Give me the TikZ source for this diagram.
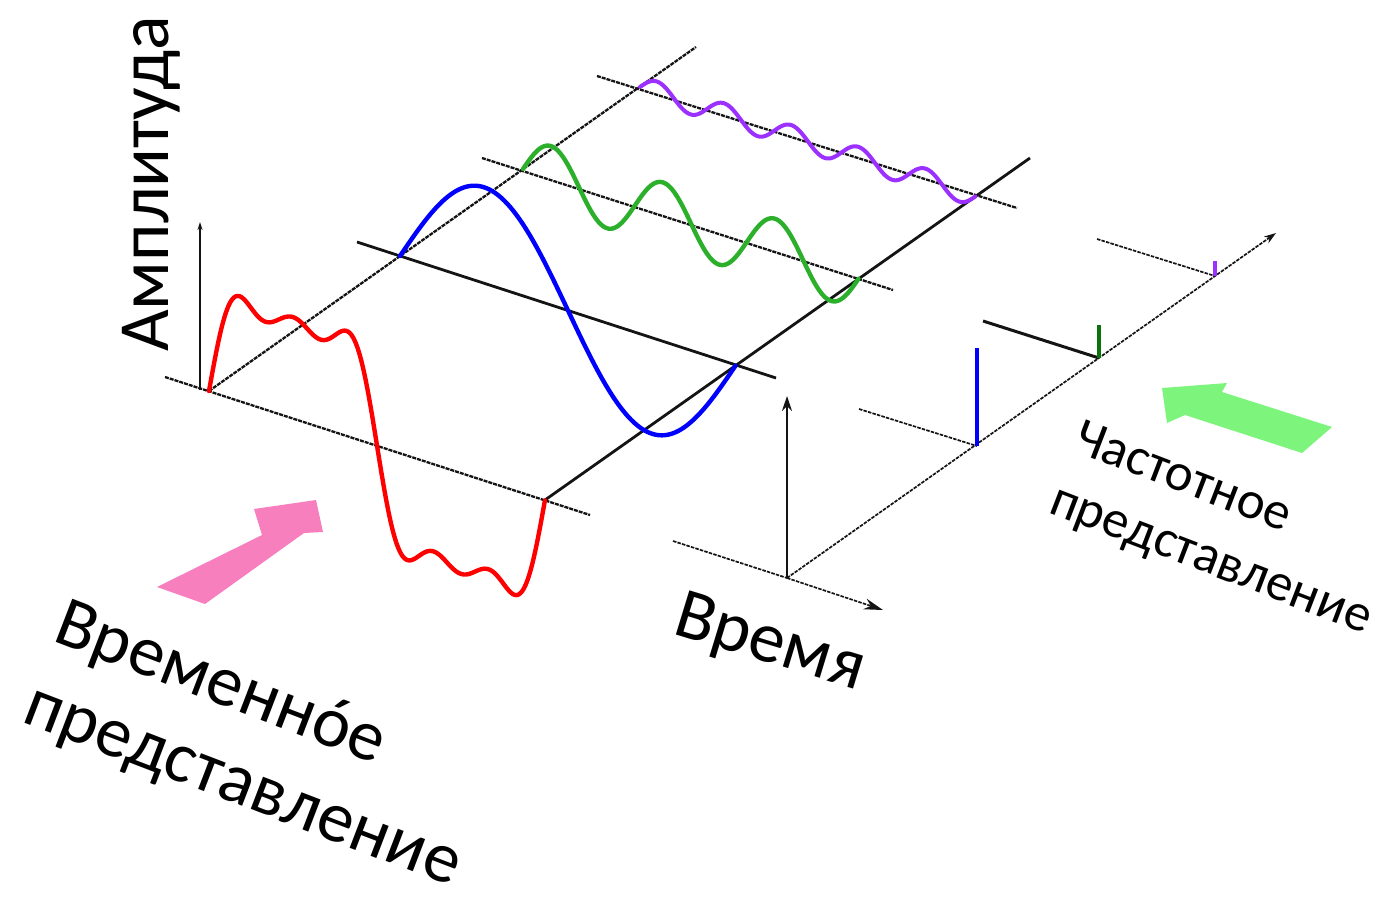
\documentclass[tikz,border=0pt]{standalone}
\usepackage{fontspec}
\setmainfont{Carlito}
\usepackage{tikz}
\usetikzlibrary{arrows.meta}
\definecolor{cRed}{HTML}{FF0000}
\definecolor{cBlue}{HTML}{0000FF}
\definecolor{cGreen}{HTML}{2CB02C}
\definecolor{cDkGreen}{HTML}{0B730B}
\definecolor{cViolet}{HTML}{9B30FF}
\definecolor{cPink}{HTML}{F77FBE}
\definecolor{cLime}{HTML}{7DF57D}
\definecolor{cAxis}{HTML}{141414}
\tikzset{
  gridln/.style={cAxis, line width=2.8pt},
  gridds/.style={cAxis, line width=2.3pt, dash pattern=on 4pt off 1pt},
  thinds/.style={cAxis, line width=1.7pt, dash pattern=on 3.5pt off 1.2pt},
  wave/.style={line width=4.4pt, line join=round, line cap=round},
  spike/.style={line width=3.6pt},
  axarr/.style={-{Stealth[length=15pt,width=10pt]}, cAxis, line width=2pt},
  lbl/.style={font=\fontsize{72}{80}\selectfont, inner sep=0pt, anchor=base west},
  lblsm/.style={font=\fontsize{53}{60}\selectfont, inner sep=0pt, anchor=base west}
}

\begin{document}
\begin{tikzpicture}[x=1pt, y=-1pt]
\useasboundingbox (0,0) rectangle (1385,900);
% Time plane: origin (209,391), time step (336,109), depth step (431,-304)
\coordinate (o) at (209,391);
\coordinate (ot) at (545,500);
\coordinate (od) at (696,47);
\coordinate (otd) at (1030,158);
\draw[gridds] (o) -- (od);
\draw[gridln] (ot) -- (otd);
% baselines of the four waves
\draw[gridds] (165,377) -- (590,515);
\draw[gridln] (357,242) -- (776,378);
\draw[gridds] (482,158) -- (893,290);
\draw[gridds] (597,76) -- (1017,208);
% amplitude axis
\coordinate (amptop) at (200,222);
\draw[-{Stealth[length=8pt,width=5pt]}, cAxis, line width=1.8pt] (200,390) -- (amptop);
% waves
\draw[wave, cRed] plot[domain=0:1, samples=241]
  ({209+336*\x}, {391+109*\x-119*(sin(360*\x)+0.3*sin(1080*\x)+0.15*sin(1800*\x))});
\draw[wave, cBlue] plot[domain=0:1, samples=161]
  ({400+336*\x}, {256+109*\x-96*sin(360*\x)});
\draw[wave, cGreen] plot[domain=0:1, samples=161]
  ({523+336*\x}, {169+109*\x-32*sin(1080*\x)});
\draw[wave, cViolet, line width=4pt] plot[domain=0:1, samples=201]
  ({640+336*\x}, {87+109*\x-11*sin(1800*\x)});

% Frequency plane: origin (787,578)
\coordinate (fo) at (787,578);
\coordinate (fup) at (787,396);
\coordinate (fleft) at (673,541);
\coordinate (fright) at (883,610);
\coordinate (ftip) at (1276,233);
\draw[axarr] (fo) -- (fup);
\draw[thinds] (fleft) -- (fo);
\draw[thinds, -{Stealth[length=19pt,width=11pt]}] (fo) -- (fright);
\draw[thinds, -{Stealth[length=12pt,width=8pt]}] (fo) -- (ftip);
% spectral lines
\coordinate (sb) at (977,446);
\coordinate (sg) at (1099,358);
\coordinate (sv) at (1215,276);
\draw[thinds] (859,409) -- (sb);
\draw[cAxis, line width=3pt] (983,321) -- (sg);
\draw[thinds] (1097,239) -- (sv);
\draw[spike, cBlue] (sb) -- ++(0,-98);
\draw[spike, cDkGreen, line width=4.6pt] (sg) -- ++(0,-33);
\draw[spike, cViolet] (sv) -- ++(0,-15);

% big arrows
\fill[cPink] (157,587) -- (262,535) -- (254,509) -- (316,500) -- (323,532)
  -- (304,533) -- (205,604) -- cycle;
\fill[cLime] (1162,388) -- (1227,383) -- (1222,392) -- (1332,427) -- (1302,453)
  -- (1185,415) -- (1167,423) -- cycle;

% labels
\node[lbl, rotate=90] (ampl) at (168,352) {Амплитуда};
\node[lbl, rotate=-17] (vremya) at (671,633) {Время};
\node[lbl, rotate=-21] (trep1) at (51,640) {Временнóе};
\node[lbl, rotate=-21] (trep2) at (20,721) {представление};
\node[lblsm, rotate=-21] (frep1) at (1071,450) {Частотное};
\node[lblsm, rotate=-21] (frep2) at (1047,512) {представление};
\end{tikzpicture}
\end{document}
